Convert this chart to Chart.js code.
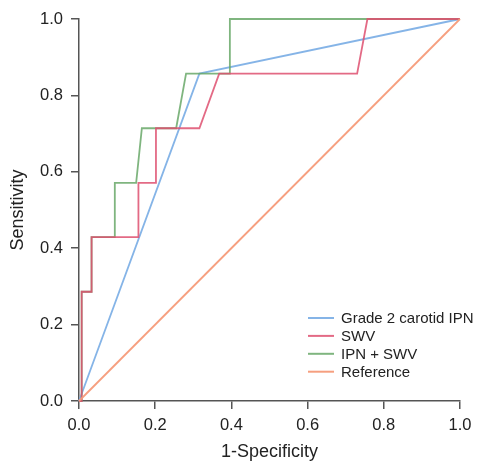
<!DOCTYPE html>
<html>
<head>
<meta charset="utf-8">
<script src="https://cdn.jsdelivr.net/npm/chart.js@4.4.1/dist/chart.umd.min.js"></script>
<style>
  html, body { margin: 0; padding: 0; background: #fff; }
  #wrap { width: 483px; height: 463px; position: relative; }
</style>
</head>
<body>
<div id="wrap"><canvas id="roc"></canvas></div>
<script>
// ROC curve points (x = 1-specificity, y = sensitivity)
const seriesNames = ["Grade 2 carotid IPN", "SWV", "IPN + SWV", "Reference"];

const ipnX = [0, 0.316, 1];
const ipnY = [0, 0.857, 1];

const swvX = [0, 0.007, 0.007, 0.033, 0.033, 0.156, 0.156, 0.202, 0.202, 0.316, 0.368, 0.730, 0.757, 1];
const swvY = [0, 0, 0.286, 0.286, 0.429, 0.429, 0.571, 0.571, 0.714, 0.714, 0.857, 0.857, 1, 1];

const bothX = [0, 0.007, 0.007, 0.033, 0.033, 0.094, 0.094, 0.150, 0.165, 0.255, 0.281, 0.396, 0.396, 1];
const bothY = [0, 0, 0.286, 0.286, 0.429, 0.429, 0.571, 0.571, 0.714, 0.714, 0.857, 0.857, 1, 1];

const refX = [0, 1];
const refY = [0, 1];

const tickValues = [0, 0.2, 0.4, 0.6, 0.8, 1.0];

const colors = ["rgba(120,172,228,0.9)", "rgba(222,80,112,0.85)", "rgba(104,168,104,0.85)", "rgba(246,154,120,0.95)"];

function pts(xs, ys) {
    return xs.map((x, i) => ({ x: x, y: ys[i] }));
}

const FONT = "'Liberation Sans', Arial, Helvetica, sans-serif";
const AXIS = "#555";

// legend drawn inside the plot, bottom right
const insideLegend = {
    id: 'insideLegend',
    afterDraw(chart) {
        const ctx = chart.ctx;
        const area = chart.chartArea;
        const x0 = area.left + 229, y0 = area.top + 299, gap = 17.9;
        ctx.save();
        ctx.font = "15px " + FONT;
        ctx.textBaseline = 'middle';
        ctx.fillStyle = "#222";
        seriesNames.forEach((name, i) => {
            const y = y0 + i * gap;
            ctx.strokeStyle = colors[i];
            ctx.lineWidth = 2;
            ctx.beginPath();
            ctx.moveTo(x0, y);
            ctx.lineTo(x0 + 26, y);
            ctx.stroke();
            ctx.fillText(name, x0 + 33, y + 1);
        });
        ctx.restore();
    }
};

const lineDefaults = { showLine: true, pointRadius: 0, borderWidth: 1.8, fill: false, tension: 0, clip: false };

new Chart(document.getElementById("roc"), {
    type: 'scatter',
    data: {
        datasets: [
            { ...lineDefaults, label: seriesNames[0], data: pts(ipnX, ipnY), borderColor: colors[0], order: 3 },
            { ...lineDefaults, label: seriesNames[1], data: pts(swvX, swvY), borderColor: colors[1], order: 1 },
            { ...lineDefaults, label: seriesNames[2], data: pts(bothX, bothY), borderColor: colors[2], order: 2 },
            { ...lineDefaults, label: seriesNames[3], data: pts(refX, refY), borderColor: colors[3], order: 0 }
        ]
    },
    options: {
        responsive: true,
        maintainAspectRatio: false,
        animation: false,
        layout: { padding: { top: 19, right: 23, left: 0, bottom: 0 } },
        plugins: {
            legend: { display: false },
            tooltip: { enabled: false }
        },
        scales: {
            x: {
                type: 'linear',
                min: 0, max: 1,
                afterBuildTicks: s => { s.ticks = tickValues.map(v => ({ value: v })); },
                afterFit: s => { s.height = 62; },
                grid: { drawOnChartArea: false, drawTicks: true, tickLength: 8, color: AXIS, lineWidth: 1.5 },
                border: { display: true, color: AXIS, width: 1.5 },
                ticks: { color: "#222", font: { family: FONT, size: 16.5 }, padding: 7, maxRotation: 0,
                         callback: v => v.toFixed(1) },
                title: { display: true, text: "1-Specificity", color: "#222",
                         font: { family: FONT, size: 18 }, padding: { top: 2, bottom: 0 } }
            },
            y: {
                type: 'linear',
                min: 0, max: 1,
                afterBuildTicks: s => { s.ticks = tickValues.map(v => ({ value: v })); },
                afterFit: s => { s.width = 79; },
                grid: { drawOnChartArea: false, drawTicks: true, tickLength: 8, color: AXIS, lineWidth: 1.5 },
                border: { display: true, color: AXIS, width: 1.5 },
                ticks: { color: "#222", font: { family: FONT, size: 16.5 }, padding: 8,
                         callback: v => v.toFixed(1) },
                title: { display: true, text: "Sensitivity", color: "#222",
                         font: { family: FONT, size: 18 }, padding: { top: 7, bottom: 0 } }
            }
        }
    },
    plugins: [insideLegend]
});
</script>
</body>
</html>
